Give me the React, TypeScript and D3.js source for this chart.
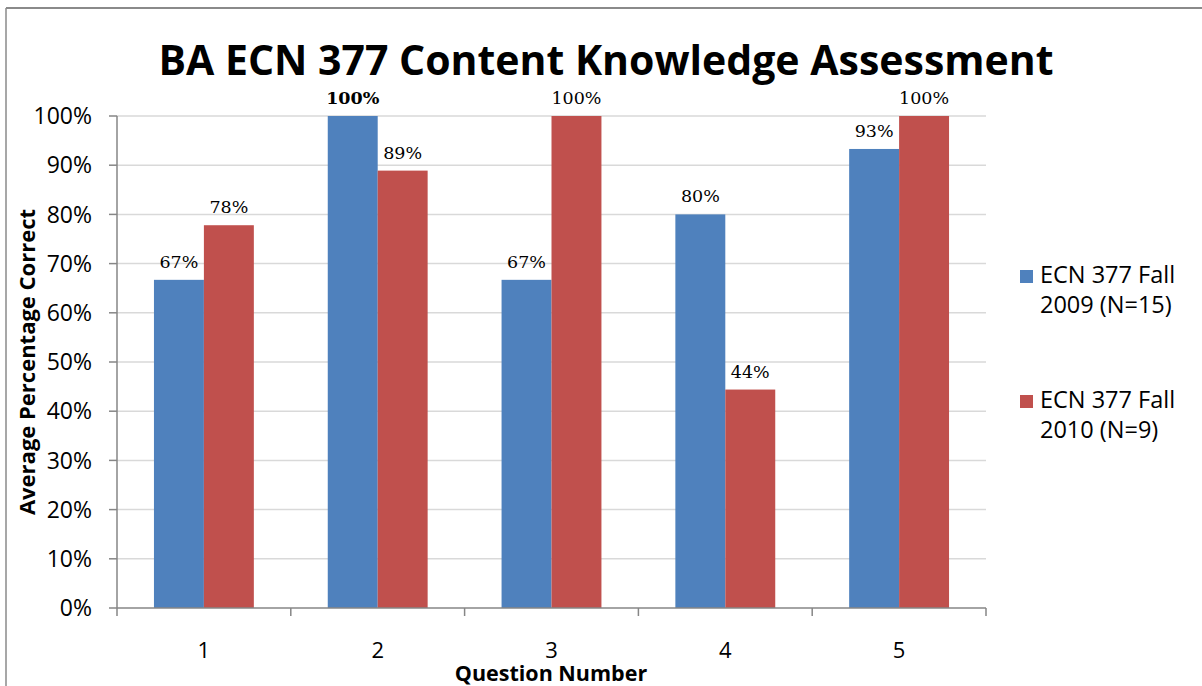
import React from 'react';
import * as d3 from 'd3';

// chart data
const questions = ['1', '2', '3', '4', '5'];
const seriesNames = ['ECN 377 Fall 2009 (N=15)', 'ECN 377 Fall 2010 (N=9)'];
const legendLines = [['ECN 377 Fall', '2009 (N=15)'], ['ECN 377 Fall', '2010 (N=9)']];
const fall2009 = [0.667, 1.0, 0.667, 0.8, 0.933];
const fall2010 = [0.778, 0.889, 1.0, 0.444, 1.0];
const yTicks = [0, 0.1, 0.2, 0.3, 0.4, 0.5, 0.6, 0.7, 0.8, 0.9, 1.0];

const colors = ['#4F81BD', '#C0504D'];
const sans = '"Open Sans", sans-serif';
const serif = '"DejaVu Serif", serif';

const W = 1202;
const H = 686;
const left = 117;
const right = 986;
const top = 116;
const bottom = 608;

const App = () => {
  const x0 = d3.scaleBand<string>().domain(questions).range([left, right]).padding(0);
  const x1 = d3
    .scaleBand<string>()
    .domain(seriesNames)
    .range([0, x0.bandwidth()])
    .paddingInner(0)
    .paddingOuter(0.74);
  const y = d3.scaleLinear().domain([0, 1]).range([bottom, top]);
  const pct = d3.format('.0%');

  const series = [fall2009, fall2010];
  const boundaries = [...questions.map(q => x0(q) as number), right];

  return (
    <svg width={W} height={H} style={{ position: 'absolute', left: 0, top: 0, background: '#fff' }}>
      {/* outer frame, only top and left visible */}
      <line x1={6} y1={8} x2={W} y2={8} stroke="#8a8a8a" strokeWidth={2} />
      <line x1={6} y1={8} x2={6} y2={H} stroke="#8a8a8a" strokeWidth={1.5} />

      <text x={606} y={75} textAnchor="middle" fontFamily={sans} fontWeight="bold" fontSize={41} fill="#000">
        BA ECN 377 Content Knowledge Assessment
      </text>

      {/* gridlines */}
      {yTicks.filter(t => t > 0).map(t => (
        <line key={t} x1={left} x2={right} y1={y(t)} y2={y(t)} stroke="#d9d9d9" strokeWidth={1.5} />
      ))}

      {/* bars */}
      {series.map((vals, si) =>
        vals.map((v, i) => {
          const bx = (x0(questions[i]) as number) + (x1(seriesNames[si]) as number);
          return (
            <rect
              key={`${si}-${i}`}
              x={bx}
              y={y(v)}
              width={x1.bandwidth()}
              height={bottom - y(v)}
              fill={colors[si]}
            />
          );
        })
      )}

      {/* data labels */}
      {series.map((vals, si) =>
        vals.map((v, i) => {
          const bx = (x0(questions[i]) as number) + (x1(seriesNames[si]) as number) + x1.bandwidth() / 2;
          const bold = si === 0 && i === 1;
          return (
            <text
              key={`l${si}-${i}`}
              x={bx}
              y={y(v) - 12}
              textAnchor="middle"
              fontFamily={serif}
              fontSize={17.5}
              fontWeight={bold ? 'bold' : 'normal'}
              fill="#000"
            >
              {pct(v)}
            </text>
          );
        })
      )}

      {/* y axis */}
      <line x1={left} x2={left} y1={top} y2={bottom} stroke="#868686" strokeWidth={1.5} />
      {yTicks.map(t => (
        <g key={t}>
          <line x1={left - 8} x2={left} y1={y(t)} y2={y(t)} stroke="#868686" strokeWidth={1.5} />
          <text x={92} y={y(t)} dy="0.36em" textAnchor="end" fontFamily={sans} fontSize={23} fill="#000">
            {pct(t)}
          </text>
        </g>
      ))}

      {/* x axis */}
      <line x1={left} x2={right} y1={bottom} y2={bottom} stroke="#868686" strokeWidth={1.5} />
      {boundaries.map((bx, i) => (
        <line key={i} x1={bx} x2={bx} y1={bottom} y2={bottom + 8} stroke="#868686" strokeWidth={1.5} />
      ))}
      {questions.map(q => (
        <text
          key={q}
          x={(x0(q) as number) + x0.bandwidth() / 2}
          y={658}
          textAnchor="middle"
          fontFamily={sans}
          fontSize={22}
          fill="#000"
        >
          {q}
        </text>
      ))}

      <text x={551} y={681} textAnchor="middle" fontFamily={sans} fontWeight="bold" fontSize={21.5} fill="#000">
        Question Number
      </text>
      <text
        transform={`translate(35,362) rotate(-90)`}
        textAnchor="middle"
        fontFamily={sans}
        fontWeight="bold"
        fontSize={22}
        fill="#000"
      >
        Average Percentage Correct
      </text>

      {/* legend */}
      {legendLines.map((lines, si) => {
        const base = si === 0 ? 283 : 408;
        return (
          <g key={si}>
            <rect x={1020} y={base - 13} width={13} height={13} fill={colors[si]} />
            {lines.map((ln, li) => (
              <text key={li} x={1040} y={base + li * 30} fontFamily={sans} fontSize={23.5} fill="#000">
                {ln}
              </text>
            ))}
          </g>
        );
      })}
    </svg>
  );
};

export default App;
